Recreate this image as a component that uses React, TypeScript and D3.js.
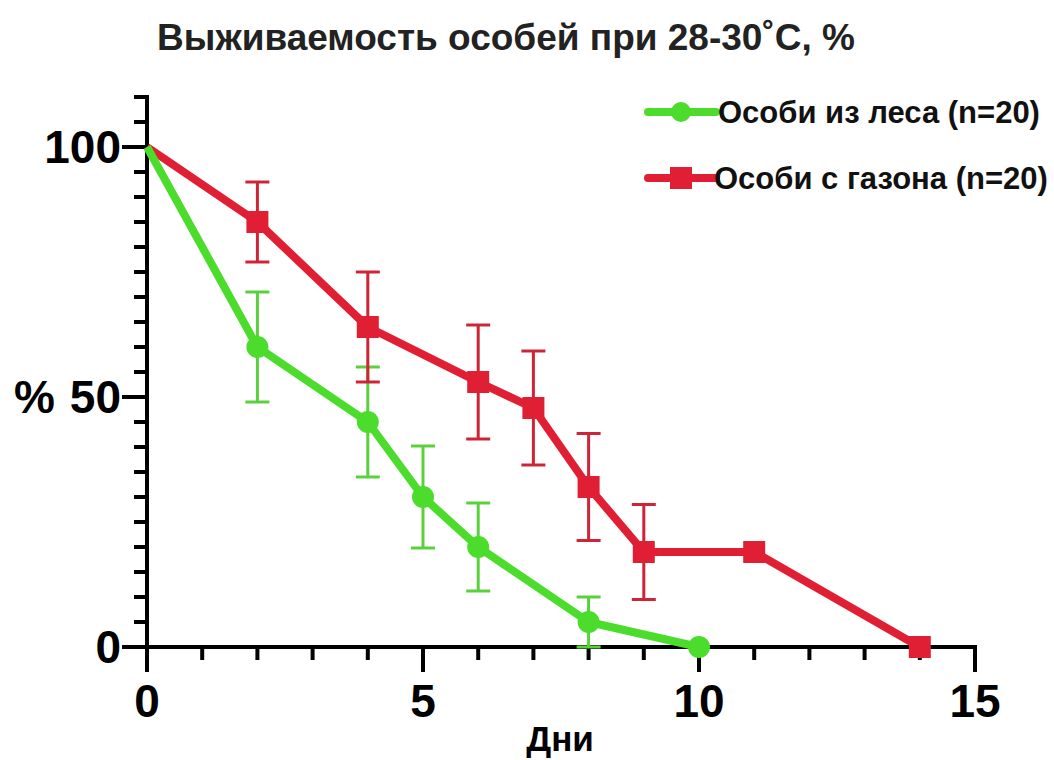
import React from "react";
import * as d3 from "d3";

const forestDays = [0, 2, 4, 5, 6, 8, 10];
const forestValues = [100, 60, 45, 30, 20, 5, 0];
const forestErr = [0, 11, 11, 10.2, 8.8, 5, 0];

const lawnDays = [0, 2, 4, 6, 7, 8, 9, 11, 14];
const lawnValues = [100, 85, 64, 53, 47.8, 32, 19, 19, 0];
const lawnErr = [0, 8, 11, 11.4, 11.4, 10.7, 9.5, 0, 0];

const xMajorTicks = [0, 5, 10, 15];
const yMajorTicks = [0, 50, 100];

const title = "Выживаемость особей при 28-30˚C, %";
const xLabel = "Дни";
const yLabel = "%";
const forestLabel = "Особи из леса (n=20)";
const lawnLabel = "Особи с газона (n=20)";

const GREEN = "#4bdc2c";
const GREEN_ERR = "#5ad03e";
const RED = "#e11f34";
const RED_ERR = "#cf2438";
const FONT = "'Liberation Sans', Arial, sans-serif";

export default function App() {
  const W = 1054, H = 760;
  const x = d3.scaleLinear().domain([0, 15]).range([147, 975]);
  const y = d3.scaleLinear().domain([0, 100]).range([647, 147]);
  const line = d3.line<number>().x((d) => d[0]).y((d) => d[1]);

  const minorX = d3.range(0, 16, 1);
  const minorY = d3.range(0, 111, 5);

  const forestPts = forestDays.map((d, i) => [x(d), y(forestValues[i])] as [number, number]);
  const lawnPts = lawnDays.map((d, i) => [x(d), y(lawnValues[i])] as [number, number]);

  const errBars = (days: number[], vals: number[], errs: number[], color: string) =>
    days.map((d, i) =>
      errs[i] > 0 ? (
        <g key={i} stroke={color} strokeWidth={3}>
          <line x1={x(d)} x2={x(d)} y1={y(Math.min(110, vals[i] + errs[i]))} y2={y(Math.max(0, vals[i] - errs[i]))} />
          <line x1={x(d) - 12} x2={x(d) + 12} y1={y(vals[i] + errs[i])} y2={y(vals[i] + errs[i])} />
          <line x1={x(d) - 12} x2={x(d) + 12} y1={y(Math.max(0, vals[i] - errs[i]))} y2={y(Math.max(0, vals[i] - errs[i]))} />
        </g>
      ) : null
    );

  return (
    <svg width={W} height={H} style={{ position: "absolute", left: 0, top: 0, background: "#fff" }} fontFamily={FONT}>
      <text x={506} y={50} textAnchor="middle" fontSize={37} fontWeight="bold" fill="#222">{title}</text>

      {/* axes */}
      <g stroke="#000" strokeWidth={4}>
        <line x1={x(0)} x2={x(0)} y1={y(110) - 2} y2={y(0) + 25} />
        <line x1={x(0) - 25} x2={x(15) + 2} y1={y(0)} y2={y(0)} />
        {minorX.map((t) => (
          <line key={"mx" + t} x1={x(t)} x2={x(t)} y1={y(0)} y2={y(0) + (t % 5 === 0 ? 25 : 13)} />
        ))}
        {minorY.map((t) => (
          <line key={"my" + t} x1={x(0)} x2={x(0) - (t % 50 === 0 ? 25 : 13)} y1={y(t)} y2={y(t)} />
        ))}
      </g>
      <g fontSize={46} fontWeight="bold" fill="#000">
        {xMajorTicks.map((t) => (
          <text key={"xt" + t} x={x(t)} y={717} textAnchor="middle">{t}</text>
        ))}
        {yMajorTicks.map((t) => (
          <text key={"yt" + t} x={121} y={y(t) + 16} textAnchor="end">{t}</text>
        ))}
        <text x={14} y={y(50) + 16}>{yLabel}</text>
      </g>
      <text x={560} y={751} textAnchor="middle" fontSize={35} fontWeight="bold" fill="#000">{xLabel}</text>

      {/* error bars */}
      {errBars(forestDays, forestValues, forestErr, GREEN_ERR)}
      {errBars(lawnDays, lawnValues, lawnErr, RED_ERR)}

      {/* lines */}
      <path d={line(lawnPts) || ""} fill="none" stroke={RED} strokeWidth={8} strokeLinejoin="round" />
      <path d={line(forestPts) || ""} fill="none" stroke={GREEN} strokeWidth={8} strokeLinejoin="round" />
      {lawnPts.slice(1).map((p, i) => (
        <rect key={"ls" + i} x={p[0] - 11} y={p[1] - 11} width={22} height={22} fill={RED} />
      ))}
      {forestPts.slice(1).map((p, i) => (
        <circle key={"fc" + i} cx={p[0]} cy={p[1]} r={11} fill={GREEN} />
      ))}

      {/* legend */}
      <g>
        <line x1={648} x2={716} y1={112} y2={112} stroke={GREEN} strokeWidth={8} strokeLinecap="round" />
        <circle cx={681} cy={112} r={10} fill={GREEN} />
        <text x={718} y={123} fontSize={31} fontWeight="bold" fill="#111">{forestLabel}</text>
        <line x1={648} x2={716} y1={178} y2={178} stroke={RED} strokeWidth={8} strokeLinecap="round" />
        <rect x={670} y={167} width={22} height={22} fill={RED} />
        <text x={714} y={189} fontSize={31} fontWeight="bold" fill="#111">{lawnLabel}</text>
      </g>
    </svg>
  );
}
